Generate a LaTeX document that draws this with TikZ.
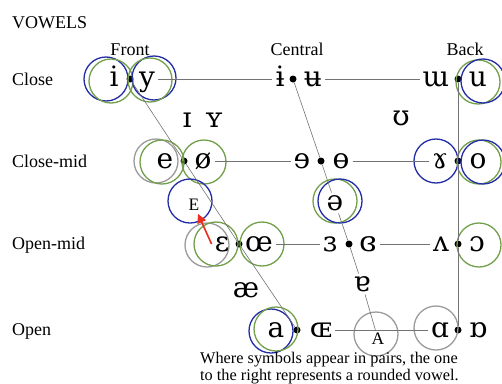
\documentclass[tikz,border=0pt]{standalone}
\usepackage{fontspec}
\setmainfont{Liberation Serif}
\newfontfamily\ipafont{DejaVu Serif}
\usetikzlibrary{arrows.meta}

\definecolor{ringblue}{RGB}{35,45,165}
\definecolor{ringgreen}{RGB}{115,160,75}
\definecolor{ringgray}{RGB}{155,155,155}
\definecolor{linegray}{RGB}{115,115,115}
\definecolor{arrowred}{RGB}{235,45,30}

\begin{document}
\begin{tikzpicture}[x=1pt,y=-1pt,
    sym/.style={font=\ipafont\fontsize{28}{28}\selectfont,text height=14.5pt,text depth=0pt,inner sep=3pt},
    lettr/.style={font=\fontsize{17.5}{17.5}\selectfont,inner sep=3pt},
    lbl/.style={font=\fontsize{18}{18}\selectfont,anchor=base west,inner sep=0pt},
    hdr/.style={font=\fontsize{18}{18}\selectfont,anchor=base,inner sep=0pt},
    pt/.style={circle,fill=black,inner sep=0pt,minimum size=7pt},
    ring/.style={circle,line width=1.3pt,minimum size=44pt,inner sep=0pt},
    blue ring/.style={ring,draw=ringblue},
    green ring/.style={ring,draw=ringgreen},
    gray ring/.style={ring,draw=ringgray},
    chart/.style={draw=linegray,line width=0.6pt}]

  % white page
  \useasboundingbox [fill=white] (0,0) rectangle (502,383);

  % titles
  \node[lbl] (title) at (12,28) {VOWELS};
  \node[hdr] (front) at (130,55) {Front};
  \node[hdr] (central) at (297,55) {Central};
  \node[hdr] (back) at (465,55) {Back};
  \node[lbl] (close) at (12,85) {Close};
  \node[lbl] (closemid) at (12,167) {Close-mid};
  \node[lbl] (openmid) at (12,249) {Open-mid};
  \node[lbl] (open) at (12,335) {Open};

  % dots on the chart
  \foreach \n/\x/\y in {d1/130/79,d2/184/161,d3/239/244,d4/297/330,
                        c1/293/79,c2/321/161,c3/349/244,
                        b1/458/79,b2/458/161,b3/458/244,b4/458/330}
    \node[pt] (\n) at (\x,\y) {};

  % vowel pairs
  \node[sym] (i) at (114,79) {i};
  \node[sym] (y) at (147,79) {y};
  \node[sym] (ibar) at (280,79) {ɨ};
  \node[sym] (ubar) at (313,79) {ʉ};
  \node[sym] (turnm) at (436,79) {ɯ};
  \node[sym] (u) at (478,79) {u};

  \node[sym] (e) at (165,161) {e};
  \node[sym] (oslash) at (203,161) {ø};
  \node[sym] (reve) at (302,161) {ɘ};
  \node[sym] (baro) at (341,161) {ɵ};
  \node[sym] (rams) at (440,161) {ɤ};
  \node[sym] (o) at (478,161) {o};

  \node[sym] (eps) at (222,244) {ɛ};
  \node[sym] (oe) at (259,244) {œ};
  \node[sym] (reveps) at (330,244) {ɜ};
  \node[sym] (closeps) at (368,244) {ɞ};
  \node[sym] (turnv) at (441,244) {ʌ};
  \node[sym] (openo) at (477,244) {ɔ};

  \node[sym] (a) at (276,330) {a};
  \node[sym] (capoe) at (321,330) {ɶ};
  \node[sym] (alpha) at (440,330) {ɑ};
  \node[sym] (turnalpha) at (478,330) {ɒ};

  % vowels between the rows
  \node[sym] (smalli) at (187,120) {ɪ};
  \node[sym] (smally) at (214,120) {ʏ};
  \node[sym] (upsilon) at (401,118) {ʊ};
  \node[sym] (schwa) at (335,203) {ə};
  \node[sym] (ash) at (246,290) {æ};
  \node[sym] (turna) at (362,284) {ɐ};
  \node[lettr] (E) at (194,205) {E};
  \node[lettr] (A) at (378,339) {A};

  % rings
  \node[blue ring] (r1) at (106,79) {};
  \node[green ring] (r2) at (111,81) {};
  \node[blue ring] (r3) at (154,78) {};
  \node[green ring] (r4) at (150,80) {};
  \node[green ring] (r5) at (478,82) {};
  \node[blue ring] (r6) at (483,81) {};
  \node[gray ring] (r7) at (156,161) {};
  \node[green ring] (r8) at (162,162) {};
  \node[green ring] (r9) at (204,162) {};
  \node[blue ring] (r10) at (436,161) {};
  \node[green ring] (r11) at (479,162) {};
  \node[blue ring] (r12) at (483,162) {};
  \node[blue ring] (r13) at (190,201) {};
  \node[green ring] (r14) at (335,201) {};
  \node[blue ring] (r15) at (340,201) {};
  \node[gray ring] (r16) at (207,245) {};
  \node[green ring] (r17) at (216,244) {};
  \node[green ring] (r18) at (262,244) {};
  \node[green ring] (r19) at (479,245) {};
  \node[blue ring] (r20) at (271,331) {};
  \node[green ring] (r21) at (276,329) {};
  \node[gray ring] (r22) at (376,334) {};
  \node[gray ring] (r23) at (436,328) {};

  % chart lines
  \draw[chart] (d1) -- (d2) -- (d3) -- (d4);
  \draw[chart] (b1) -- (b2) -- (b3) -- (b4);
  \draw[chart] (c1) -- (c2) -- (schwa) -- (c3) -- (turna) -- (A);
  \draw[chart] (y) -- (ibar) (ubar) -- (turnm);
  \draw[chart] (oslash) -- (reve) (baro) -- (rams);
  \draw[chart] (oe) -- (reveps) (closeps) -- (turnv);
  \draw[chart] (capoe) -- (alpha);

  % red arrow
  \draw[arrowred,line width=1.6pt,-{Triangle[length=9pt,width=9pt]}] (eps.west) -- (E);

  % note
  \node[font=\fontsize{16.3}{17}\selectfont,anchor=base west,align=left,inner sep=0pt] (note) at (200,380)
    {Where symbols appear in pairs, the one\\to the right represents a rounded vowel.};

\end{tikzpicture}
\end{document}
